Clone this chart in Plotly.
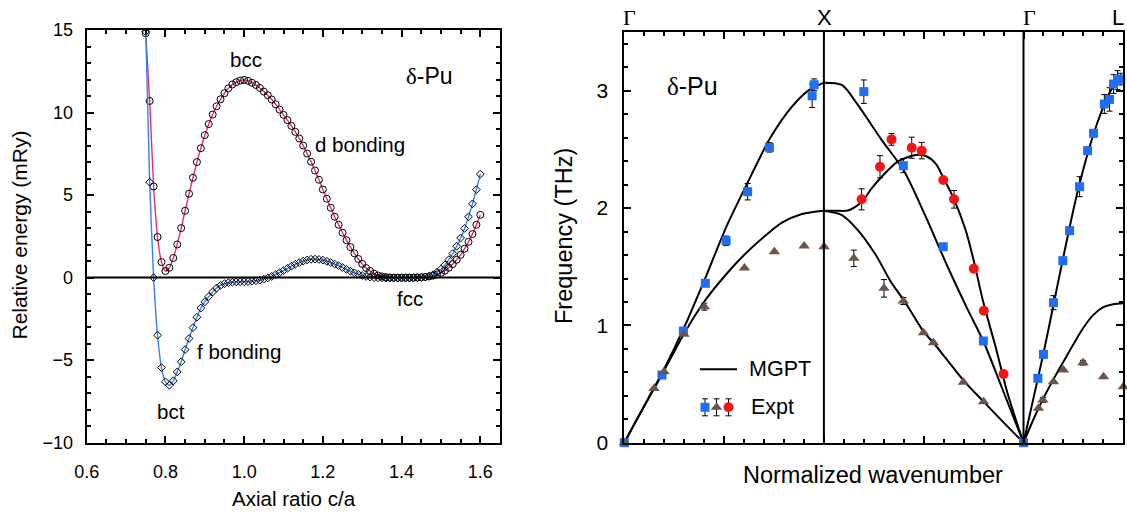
import plotly.graph_objects as go

W, H = 1127, 512

# ---------------- Left panel: relative energy vs axial ratio ----------------
ca = [0.75, 0.76, 0.77, 0.78, 0.79, 0.80, 0.81, 0.82, 0.83, 0.84,
      0.85, 0.86, 0.87, 0.88, 0.89, 0.90, 0.91, 0.92, 0.93, 0.94,
      0.95, 0.96, 0.97, 0.98, 0.99, 1.00, 1.01, 1.02, 1.03, 1.04,
      1.05, 1.06, 1.07, 1.08, 1.09, 1.10, 1.11, 1.12, 1.13, 1.14,
      1.15, 1.16, 1.17, 1.18, 1.19, 1.20, 1.21, 1.22, 1.23, 1.24,
      1.25, 1.26, 1.27, 1.28, 1.29, 1.30, 1.31, 1.32, 1.33, 1.34,
      1.35, 1.36, 1.37, 1.38, 1.39, 1.40, 1.41, 1.42, 1.43, 1.44,
      1.45, 1.46, 1.47, 1.48, 1.49, 1.50, 1.51, 1.52, 1.53, 1.54,
      1.55, 1.56, 1.57, 1.58, 1.59, 1.60]

e_d_bonding = [14.8, 10.7, 5.52, 2.46, 0.94, 0.40, 0.60, 1.19, 2.01, 3.00,
               4.05, 5.08, 6.05, 7.00, 7.84, 8.63, 9.30, 9.88, 10.38, 10.80,
               11.17, 11.47, 11.70, 11.84, 11.94, 11.98, 11.92, 11.80, 11.67, 11.49,
               11.27, 11.05, 10.79, 10.50, 10.18, 9.86, 9.54, 9.19, 8.83, 8.43,
               8.00, 7.52, 7.02, 6.49, 5.93, 5.34, 4.78, 4.23, 3.69, 3.20,
               2.72, 2.27, 1.85, 1.47, 1.13, 0.83, 0.58, 0.40, 0.24, 0.13,
               0.07, 0.03, 0.01, 0.00, 0.00, 0.00, 0.00, 0.00, 0.00, 0.01,
               0.02, 0.04, 0.07, 0.12, 0.19, 0.29, 0.42, 0.60, 0.82, 1.08,
               1.38, 1.75, 2.17, 2.64, 3.20, 3.80]

e_f_bonding = [14.9, 5.78, 0.00, -3.49, -5.45, -6.31, -6.52, -6.25, -5.71, -5.10,
               -4.36, -3.69, -3.03, -2.40, -1.84, -1.47, -1.15, -0.87, -0.63, -0.47,
               -0.37, -0.31, -0.28, -0.26, -0.25, -0.25, -0.24, -0.22, -0.19, -0.15,
               -0.09, -0.02, 0.07, 0.18, 0.30, 0.43, 0.56, 0.69, 0.81, 0.91,
               1.00, 1.07, 1.11, 1.12, 1.10, 1.06, 0.99, 0.91, 0.82, 0.72,
               0.61, 0.50, 0.39, 0.29, 0.20, 0.13, 0.07, 0.03, 0.00, -0.01,
               -0.02, -0.03, -0.03, -0.03, -0.03, -0.03, -0.03, -0.03, -0.02, -0.01,
               0.01, 0.04, 0.09, 0.18, 0.32, 0.51, 0.77, 1.09, 1.46, 1.90,
               2.40, 2.98, 3.68, 4.47, 5.33, 6.27]

left_x_ticks = [0.6, 0.8, 1.0, 1.2, 1.4, 1.6]
left_x_ticktext = ["0.6", "0.8", "1.0", "1.2", "1.4", "1.6"]
left_y_ticks = [-10, -5, 0, 5, 10, 15]

# ---------------- Right panel: phonon dispersion ----------------
sym_q = [0.0, 1.0, 2.0, 2.5]
sym_labels = ["Γ", "X", "Γ", "L"]

# MGPT curves
mgpt_GX_L_q = [0.0, 0.06, 0.12, 0.19, 0.30, 0.41, 0.51, 0.62, 0.73, 0.84, 0.92, 1.0]
mgpt_GX_L_f = [0.0, 0.19, 0.378, 0.597, 0.983, 1.421, 1.836, 2.225, 2.595, 2.865, 3.00, 3.07]
mgpt_GX_T_q = [0.0, 0.06, 0.12, 0.19, 0.30, 0.40, 0.50, 0.60, 0.71, 0.79, 0.89, 1.0]
mgpt_GX_T_f = [0.0, 0.19, 0.372, 0.586, 0.932, 1.202, 1.415, 1.60, 1.77, 1.876, 1.95, 1.978]
mgpt_XG_1_q = [1.0, 1.09, 1.17, 1.29, 1.40, 1.51, 1.62, 1.72, 1.80, 1.89, 2.0]
mgpt_XG_1_f = [3.07, 3.05, 2.88, 2.58, 2.32, 1.927, 1.50, 1.137, 0.861, 0.477, 0.0]
mgpt_XG_2_q = [1.0, 1.06, 1.12, 1.19, 1.24, 1.29, 1.37, 1.46, 1.51, 1.56, 1.60, 1.65, 1.71, 1.75, 1.80, 1.86, 1.92, 2.0]
mgpt_XG_2_f = [1.978, 1.978, 1.98, 2.055, 2.17, 2.268, 2.396, 2.453, 2.444, 2.38, 2.254, 2.083, 1.813, 1.557, 1.188, 0.818, 0.421, 0.0]
mgpt_XG_3_q = [1.0, 1.09, 1.17, 1.26, 1.34, 1.40, 1.50, 1.55, 1.62, 1.70, 1.80, 1.89, 2.0]
mgpt_XG_3_f = [1.978, 1.941, 1.813, 1.60, 1.359, 1.217, 0.946, 0.85, 0.70, 0.53, 0.35, 0.19, 0.0]
mgpt_GL_L_q = [2.0, 2.05, 2.10, 2.15, 2.20, 2.267, 2.334, 2.384, 2.434, 2.468, 2.5]
mgpt_GL_L_f = [0.0, 0.38, 0.762, 1.174, 1.586, 2.112, 2.538, 2.794, 2.992, 3.078, 3.107]
mgpt_GL_T_q = [2.0, 2.05, 2.10, 2.15, 2.20, 2.25, 2.30, 2.35, 2.40, 2.45, 2.5]
mgpt_GL_T_f = [0.0, 0.20, 0.38, 0.54, 0.69, 0.84, 0.98, 1.09, 1.155, 1.18, 1.188]

# Experimental points
sq_q = [0.0, 0.189, 0.296, 0.406, 0.51, 0.618, 0.727, 0.941, 0.951, 1.200, 1.398, 1.598, 1.799,
        2.0, 2.072, 2.10, 2.15, 2.197, 2.231, 2.281, 2.321, 2.351, 2.405, 2.431, 2.451, 2.471, 2.487]
sq_f = [0.0, 0.577, 0.952, 1.359, 1.722, 2.14, 2.518, 2.958, 3.052, 2.993, 2.362, 1.671, 0.867,
        0.0, 0.549, 0.753, 1.194, 1.552, 1.808, 2.183, 2.49, 2.638, 2.888, 2.927, 3.058, 3.092, 3.10]
sq_err = [0, 0, 0, 0, 0.04, 0.07, 0.04, 0.10, 0.05, 0.10, 0.06, 0.02, 0,
          0, 0, 0, 0.06, 0, 0.03, 0.085, 0.03, 0.03, 0.08, 0.10, 0.08, 0.08, 0.05]

tri_q = [0.0, 0.149, 0.199, 0.299, 0.401, 0.602, 0.752, 0.901, 1.001, 1.150, 1.301, 1.398,
         1.499, 1.549, 1.699, 1.80, 2.0, 2.075, 2.097, 2.15, 2.20, 2.298, 2.401, 2.50]
tri_f = [0.0, 0.463, 0.605, 0.924, 1.16, 1.49, 1.628, 1.677, 1.671, 1.572, 1.316, 1.208,
         0.938, 0.853, 0.515, 0.35, 0.0, 0.293, 0.364, 0.52, 0.62, 0.682, 0.563, 0.477]
tri_err = [0, 0, 0, 0, 0.03, 0, 0, 0, 0, 0.07, 0.075, 0.03,
           0, 0, 0, 0, 0, 0, 0.02, 0, 0, 0.02, 0, 0]

circ_q = [1.189, 1.281, 1.339, 1.44, 1.49, 1.598, 1.652, 1.751, 1.801, 1.90]
circ_f = [2.075, 2.353, 2.586, 2.515, 2.49, 2.24, 2.075, 1.484, 1.125, 0.586]
circ_err = [0.09, 0.095, 0.05, 0.09, 0.07, 0, 0.075, 0, 0, 0]

right_y_ticks = [0, 1, 2, 3]

# ---------------- styles ----------------
SANS = "Liberation Sans, Arial, sans-serif"
SERIF = "Liberation Serif, Times New Roman, serif"
RED_LINE = "#ee2a68"
BLUE_LINE = "#3580f4"
SQ_COL = "#1f6ef5"
TRI_COL = "#6b544c"
CIRC_COL = "#f51515"


def PX(x):
    return x / W


def PY(y):
    return 1 - y / H


fig = go.Figure()

# left panel curves
fig.add_trace(go.Scatter(x=ca, y=e_d_bonding, mode="lines+markers",
                         line=dict(color=RED_LINE, width=1.4, shape="spline", smoothing=0.6),
                         marker=dict(symbol="circle-open", size=7, color="black", line=dict(width=1)),
                         xaxis="x", yaxis="y", showlegend=False))
fig.add_trace(go.Scatter(x=ca, y=e_f_bonding, mode="lines+markers",
                         line=dict(color=BLUE_LINE, width=1.4, shape="spline", smoothing=0.6),
                         marker=dict(symbol="diamond-open", size=6, color="black", line=dict(width=1)),
                         xaxis="x", yaxis="y", showlegend=False))

# right panel MGPT curves
for qq, ff in [(mgpt_GX_L_q, mgpt_GX_L_f), (mgpt_GX_T_q, mgpt_GX_T_f),
               (mgpt_XG_1_q, mgpt_XG_1_f), (mgpt_XG_2_q, mgpt_XG_2_f),
               (mgpt_XG_3_q, mgpt_XG_3_f), (mgpt_GL_L_q, mgpt_GL_L_f),
               (mgpt_GL_T_q, mgpt_GL_T_f)]:
    fig.add_trace(go.Scatter(x=qq, y=ff, mode="lines",
                             line=dict(color="black", width=2, shape="spline", smoothing=0.8),
                             xaxis="x2", yaxis="y2", showlegend=False))

err_style = dict(type="data", color="black", thickness=1, width=3)
fig.add_trace(go.Scatter(x=sq_q, y=sq_f, mode="markers",
                         marker=dict(symbol="square", size=9, color=SQ_COL),
                         error_y=dict(array=sq_err, **err_style), cliponaxis=False,
                         xaxis="x2", yaxis="y2", showlegend=False))
fig.add_trace(go.Scatter(x=tri_q, y=tri_f, mode="markers",
                         marker=dict(symbol="triangle-up", size=10, color=TRI_COL),
                         error_y=dict(array=tri_err, **err_style), cliponaxis=False,
                         xaxis="x2", yaxis="y2", showlegend=False))
fig.add_trace(go.Scatter(x=circ_q, y=circ_f, mode="markers",
                         marker=dict(symbol="circle", size=10, color=CIRC_COL),
                         error_y=dict(array=circ_err, **err_style), cliponaxis=False,
                         xaxis="x2", yaxis="y2", showlegend=False))

# legend glyphs (pixel overlay axis)
leg_line_x = [700, 737]
leg_line_y = [369.3, 369.3]
fig.add_trace(go.Scatter(x=leg_line_x, y=leg_line_y, mode="lines",
                         line=dict(color="black", width=2), xaxis="x3", yaxis="y3", showlegend=False))
for lx, sym, col, sz in [(705, "square", SQ_COL, 9), (716.5, "triangle-up", TRI_COL, 10), (728.5, "circle", CIRC_COL, 10)]:
    fig.add_trace(go.Scatter(x=[lx], y=[407.3], mode="markers",
                             marker=dict(symbol=sym, size=sz, color=col),
                             error_y=dict(type="data", array=[8.5], color="black", thickness=1, width=3),
                             xaxis="x3", yaxis="y3", showlegend=False))

tickfont_l = dict(family=SANS, size=18, color="black")
tickfont_r = dict(family=SANS, size=21, color="black")

common_axis = dict(showline=True, linecolor="black", linewidth=2, mirror="ticks",
                   ticks="inside", tickcolor="black", tickwidth=1.5, showgrid=False, zeroline=False,
                   automargin=False)

fig.update_layout(
    template="none",
    width=W, height=H, margin=dict(l=0, r=0, t=0, b=0, pad=0, autoexpand=False),
    paper_bgcolor="white", plot_bgcolor="rgba(0,0,0,0)",
    xaxis=dict(domain=[PX(86.7), PX(500)], range=[0.6, 1.65], anchor="y",
               tickmode="array", tickvals=left_x_ticks, ticktext=left_x_ticktext, ticklen=7,
               minor=dict(tick0=0.6, dtick=0.05, ticklen=4, ticks="inside", tickcolor="black", tickwidth=1.5),
               tickfont=tickfont_l, ticklabelstandoff=12, **common_axis),
    yaxis=dict(domain=[PY(442.7), PY(30)], range=[-10, 15], anchor="x",
               tickmode="array", tickvals=left_y_ticks, ticklen=7,
               minor=dict(tick0=0, dtick=1, ticklen=4, ticks="inside", tickcolor="black", tickwidth=1.5),
               tickfont=tickfont_l, ticklabelstandoff=8, **common_axis),
    xaxis2=dict(domain=[PX(624.3), PX(1123.3)], range=[0, 2.5], anchor="y2",
                tickmode="array", tickvals=[0, 0.5, 1, 1.5, 2, 2.5], ticklen=7, showticklabels=False,
                minor=dict(tick0=0, dtick=0.1, ticklen=4, ticks="inside", tickcolor="black", tickwidth=1.5),
                **common_axis),
    yaxis2=dict(domain=[PY(442.7), PY(32.2)], range=[0, 3.5], anchor="x2",
                tickmode="array", tickvals=right_y_ticks, ticklen=7,
                minor=dict(tick0=0, dtick=0.2, ticklen=4, ticks="inside", tickcolor="black", tickwidth=1.5),
                tickfont=tickfont_r, ticklabelstandoff=10, **common_axis),
    xaxis3=dict(domain=[0, 1], range=[0, W], visible=False, fixedrange=True, automargin=False),
    yaxis3=dict(domain=[0, 1], range=[H, 0], visible=False, fixedrange=True, anchor="x3",
                automargin=False),
)

# zero line of left panel, symmetry lines of right panel
shapes = [dict(type="line", xref="x domain", yref="y", x0=0, x1=1, y0=0, y1=0,
               line=dict(color="black", width=2))]
for qv in sym_q[1:3]:
    shapes.append(dict(type="line", xref="x2", yref="y2 domain", x0=qv, x1=qv, y0=0, y1=1,
                       line=dict(color="black", width=2)))
fig.update_layout(shapes=shapes)

ann = []
def A(text, x, y, size, family=SANS, angle=0, xanchor="center"):
    ann.append(dict(text=text, x=PX(x), y=PY(y), xref="paper", yref="paper", showarrow=False,
                    font=dict(family=family, size=size, color="black"), textangle=angle,
                    xanchor=xanchor, yanchor="middle"))

# left panel texts
A("Relative energy (mRy)", 19, 235.5, 21, angle=-90)
A("Axial ratio c/a", 294, 498.5, 20.5)
A("bcc", 245.5, 59, 20.5)
A("d bonding", 360, 144, 20.5)
A("<span style='font-family:Liberation Serif'>δ</span>-Pu", 430, 76, 23)
A("fcc", 410, 298, 20.5)
A("f bonding", 238.5, 351, 20.5)
A("bct", 170.5, 411, 20.5)

# right panel texts
A("Frequency (THz)", 563.5, 236.5, 23.5, angle=-90)
A("Normalized wavenumber", 872.5, 474.5, 23.5)
A("<span style='font-family:Liberation Serif'>δ</span>-Pu", 692, 86, 25)
A("MGPT", 747, 368.5, 21.5, xanchor="left")
A("Expt", 749, 407, 21.5, xanchor="left")
top_x = [630, 824, 1029, 1126]
top_anchor = ["center", "center", "center", "right"]
for lab, tx, xa in zip(sym_labels, top_x, top_anchor):
    A(lab, tx, 17, 22, family=SERIF if lab == "Γ" else SANS, xanchor=xa)

fig.update_layout(annotations=ann)
fig.write_html("out.html")
